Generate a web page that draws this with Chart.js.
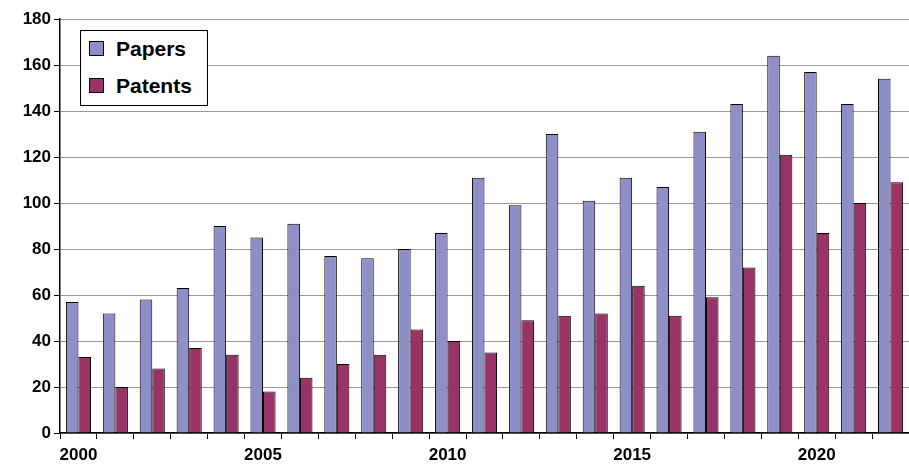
<!DOCTYPE html>
<html><head><meta charset="utf-8">
<script src="https://cdn.jsdelivr.net/npm/chart.js@4/dist/chart.umd.min.js"></script>
<style>
body{margin:0;background:#fff;}
#wrap{position:relative;width:909px;height:473px;}
#legend{position:absolute;left:80px;top:30px;width:126px;height:74px;border:1.5px solid #000;background:#fff;font-family:"Liberation Sans",Arial,sans-serif;font-weight:bold;font-size:21px;}
.it{position:absolute;left:8px;height:24px;line-height:24px;}
.sw{display:inline-block;width:13px;height:13px;border:1px solid #000;vertical-align:middle;margin-right:12px;position:relative;top:-2px;}
</style></head><body>
<div id="wrap"><canvas id="c" width="909" height="473"></canvas>
<div id="legend">
<div class="it" style="top:6px"><span class="sw" style="background:#8f8fc8"></span>Papers</div>
<div class="it" style="top:43px"><span class="sw" style="background:#993366"></span>Patents</div>
</div></div>
<script>
const years=[];for(let y=2000;y<=2022;y++)years.push(String(y));
const papers=[57,52,58,63,90,85,91,77,76,80,87,111,99,130,101,111,107,131,143,164,157,143,154];
const patents=[33,20,28,37,34,18,24,30,34,45,40,35,49,51,52,64,51,59,72,121,87,100,109];
const yTicks=[0,20,40,60,80,100,120,140,160,180];
const font={family:"'Liberation Sans', Arial, sans-serif",weight:'bold',size:17};
new Chart(document.getElementById('c'),{type:'bar',
data:{labels:years,datasets:[
{label:'Papers',data:papers,backgroundColor:'#8f8fc8',borderColor:'#000',borderWidth:1},
{label:'Patents',data:patents,backgroundColor:'#993366',borderColor:'#000',borderWidth:1}]},
options:{responsive:false,animation:false,
layout:{padding:{left:0,right:0,top:19,bottom:0}},
plugins:{legend:{display:false},tooltip:{enabled:false}},
datasets:{bar:{categoryPercentage:0.68,barPercentage:1}},
scales:{
x:{afterFit:a=>{a.height=40;},grid:{display:true,drawOnChartArea:false,offset:true,color:'#000',tickLength:6},border:{color:'#000',width:1.5},
ticks:{color:'#000',font:font,maxRotation:0,autoSkip:false,padding:6,callback:(v,i)=>i%5===0?years[i]:''}},
y:{min:0,max:180,afterFit:a=>{a.width=60;},afterBuildTicks:a=>{a.ticks=yTicks.map(v=>({value:v}));},
grid:{color:'#999',tickLength:6,tickColor:'#000'},border:{color:'#000',width:1.5},
ticks:{color:'#000',font:font}}}}});
</script></body></html>
